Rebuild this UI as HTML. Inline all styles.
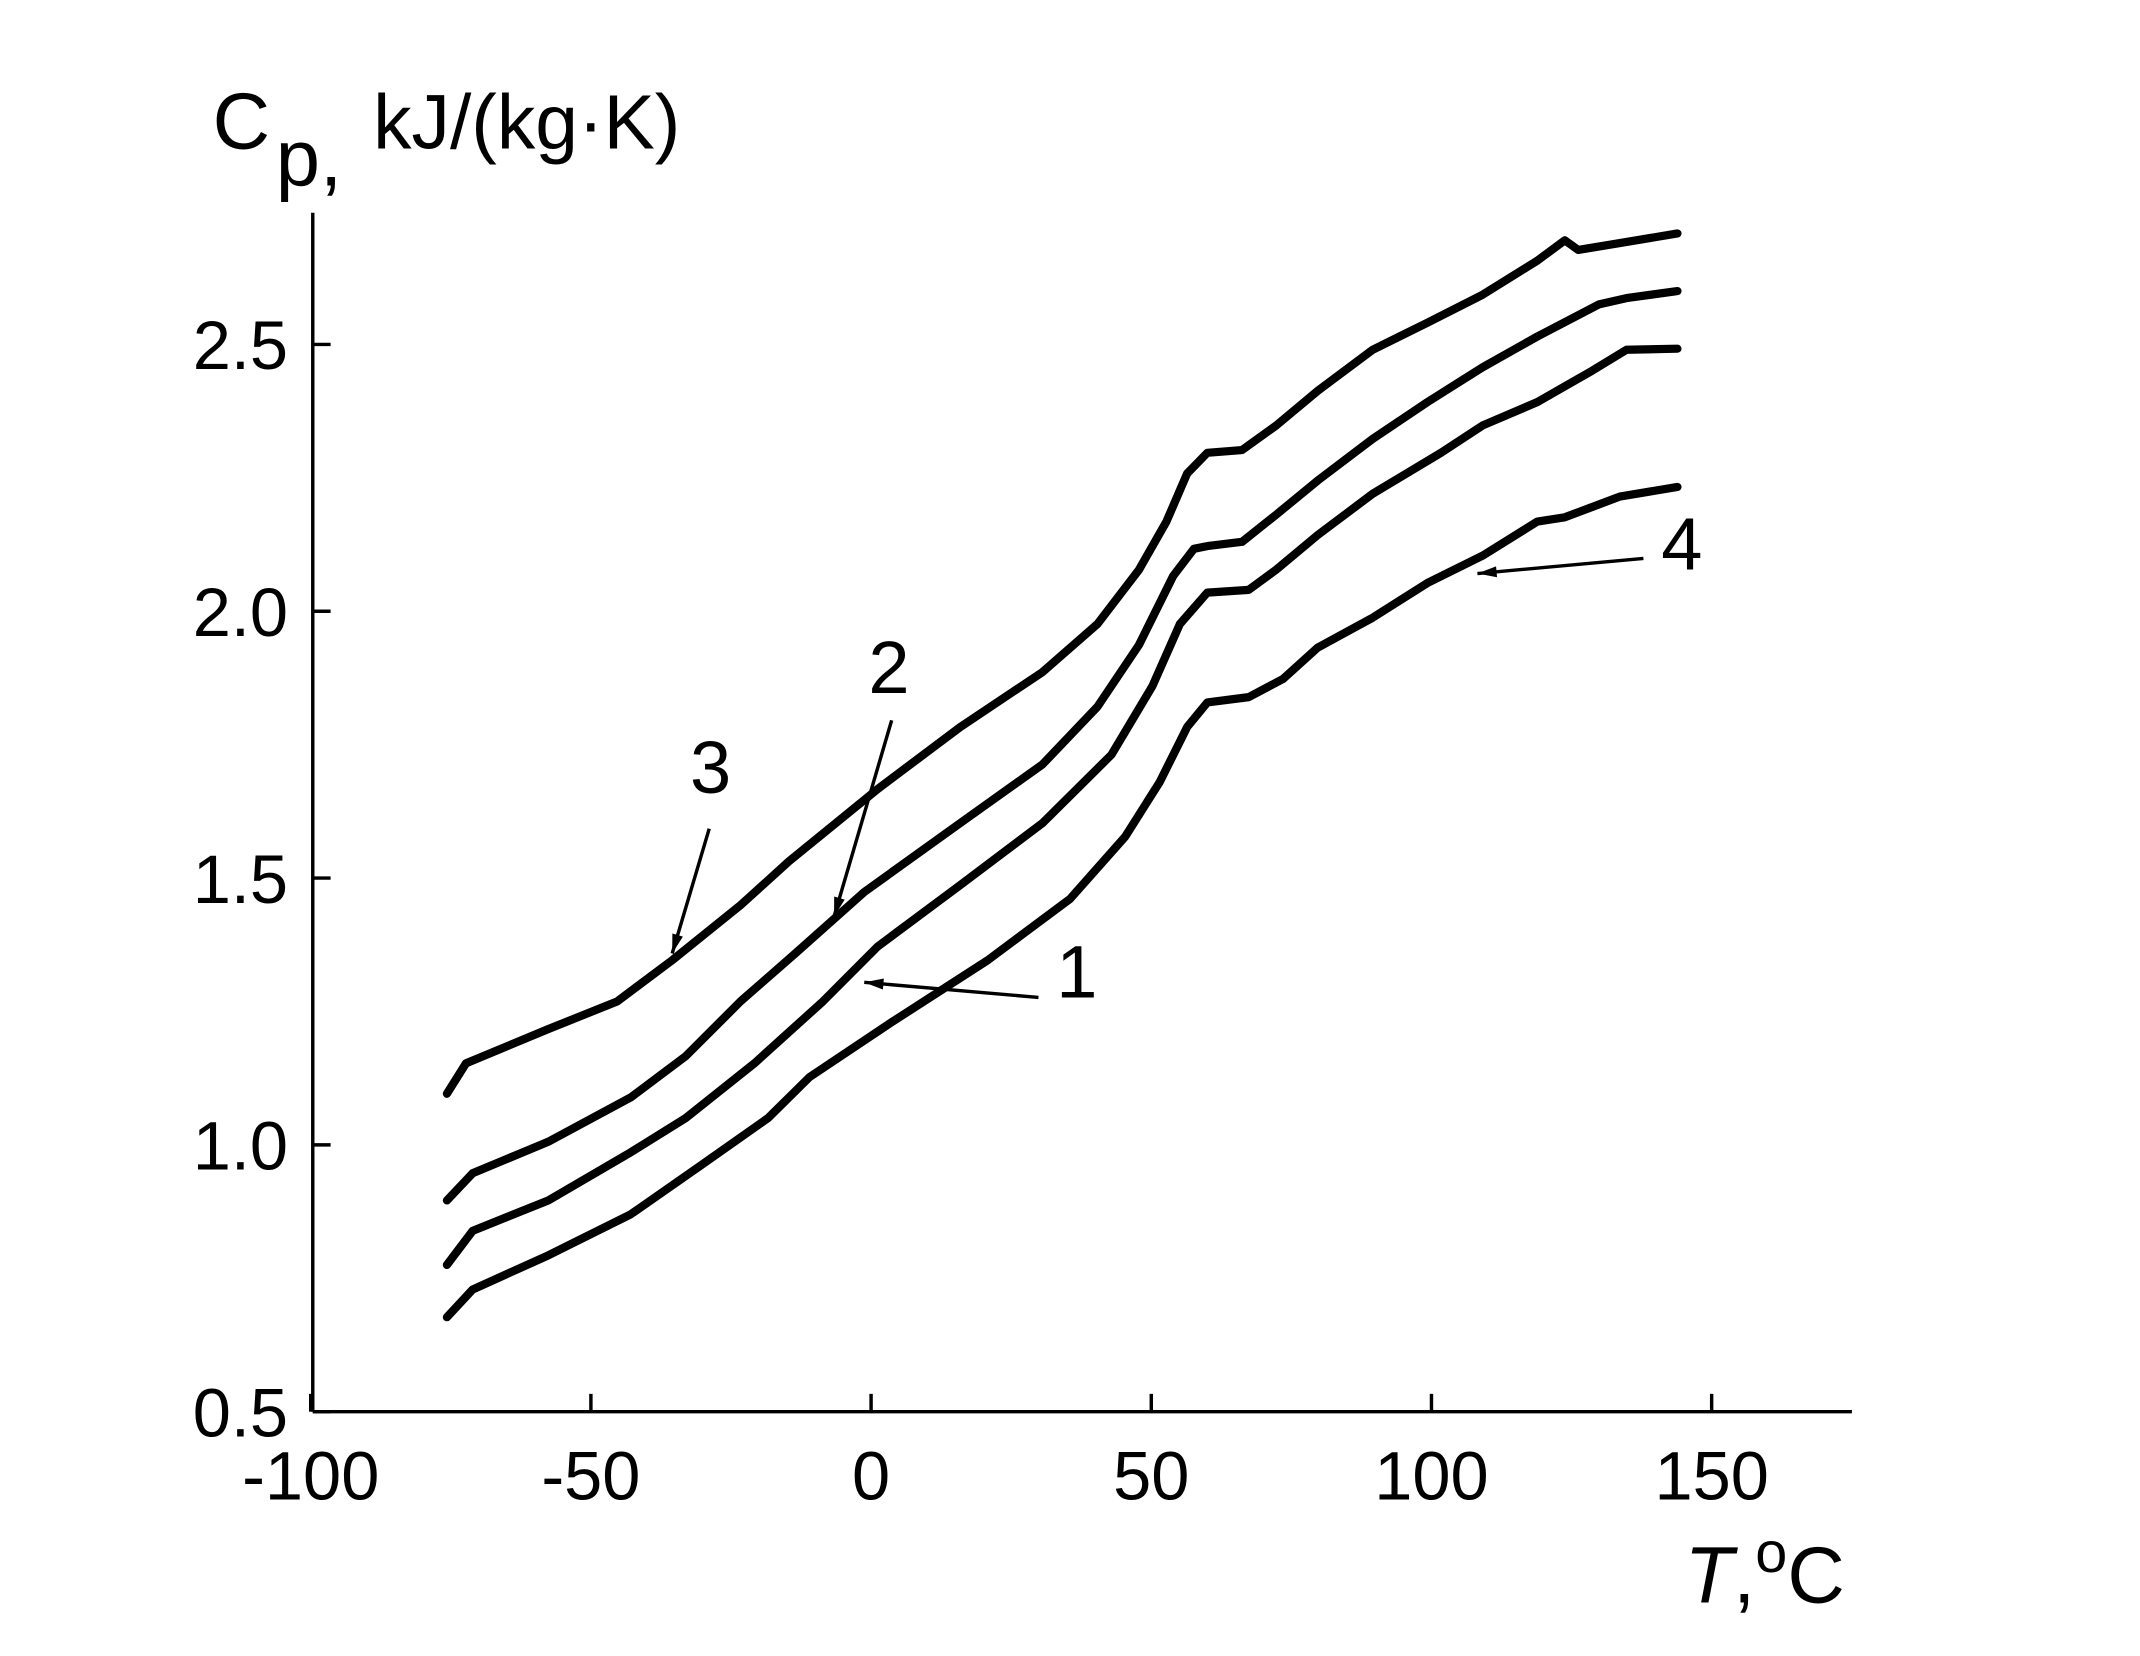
<!DOCTYPE html>
<html><head><meta charset="utf-8"><style>html,body{margin:0;padding:0;background:#fff}svg{display:block}</style></head>
<body>
<svg id="chart" width="2140" height="1656" viewBox="0 0 1560 1207" xmlns="http://www.w3.org/2000/svg" font-family="Liberation Sans, Arial, sans-serif">
<rect width="1560" height="1207" fill="#fff"/>
<g id="axes"></g>
<g id="series"></g>
<g id="annot"></g>
</svg>
<script>
const xTicks = [-100, -50, 0, 50, 100, 150];
const xTickLabels = ["-100", "-50", "0", "50", "100", "150"];
const yTicks = [0.5, 1.0, 1.5, 2.0, 2.5];
const yTickLabels = ["0.5", "1.0", "1.5", "2.0", "2.5"];
const curve1T = [-75.7,-71.1,-57.6,-42.9,-33.1,-20.8,-8.6,1.2,15.9,30.6,42.9,50.2,55.1,60,67.4,72.3,79.7,89.5,101.7,109.1,118.9,128.7,134.8,143.9];
const curve1Cp = [0.775,0.839,0.896,0.986,1.050,1.153,1.269,1.372,1.487,1.603,1.731,1.860,1.976,2.035,2.040,2.078,2.143,2.220,2.297,2.348,2.392,2.451,2.490,2.492];
const curve2T = [-75.7,-71.1,-57.6,-42.9,-33.1,-23.3,-13.5,-1.2,15.9,30.6,40.4,47.8,53.9,57.6,60,66.2,72.3,79.7,89.5,99.3,109.1,118.9,129.9,134.8,143.9];
const curve2Cp = [0.896,0.947,1.006,1.089,1.166,1.269,1.359,1.474,1.603,1.713,1.821,1.937,2.066,2.117,2.122,2.130,2.181,2.245,2.323,2.392,2.457,2.515,2.575,2.587,2.600];
const curve3T = [-75.7,-72.3,-57.6,-45.3,-35.5,-23.3,-14.7,1.2,15.9,30.6,40.4,47.8,52.7,56.4,60,66.2,72.3,79.7,89.5,99.3,109.1,118.9,123.8,126.2,133.6,143.9];
const curve3Cp = [1.096,1.153,1.217,1.269,1.346,1.449,1.531,1.667,1.783,1.886,1.976,2.078,2.168,2.258,2.297,2.302,2.348,2.413,2.490,2.541,2.593,2.657,2.695,2.677,2.690,2.708];
const curve4T = [-75.7,-71.1,-57.6,-42.9,-30.6,-18.4,-11.0,3.7,20.8,35.5,45.3,51.5,56.4,60,67.4,73.5,79.7,89.5,99.3,109.1,118.9,123.8,133.6,143.9];
const curve4Cp = [0.677,0.729,0.793,0.870,0.960,1.050,1.127,1.230,1.346,1.461,1.577,1.680,1.783,1.829,1.839,1.873,1.932,1.988,2.053,2.104,2.168,2.176,2.215,2.233];

const NS = "http://www.w3.org/2000/svg";
const X0 = 635, XS = 4.085, Y0 = 1029, YS = 389;
function xs(t){ return X0 + t*XS; }
function ys(c){ return Y0 - (c-0.5)*YS; }
function mk(tag, attrs, parent){
  const e = document.createElementNS(NS, tag);
  for (const k in attrs) e.setAttribute(k, attrs[k]);
  parent.appendChild(e); return e;
}
const axes = document.getElementById('axes');
let l = mk('line',{x1:228,y1:1029,x2:1350,y2:1029,stroke:'#000','stroke-width':2.5},axes);


l = mk('line',{x1:228,y1:155,x2:228,y2:1029,stroke:'#000','stroke-width':2.5},axes);


xTicks.forEach((t,i)=>{
  const tk = mk('line',{x1:xs(t),y1:1029,x2:xs(t),y2:1016,stroke:'#000','stroke-width':2.5},axes);
  
  
  const tx = mk('text',{x:xs(t),y:1093,'font-size':50,'text-anchor':'middle'},axes);
  tx.textContent = xTickLabels[i];
  
  
});
yTicks.forEach((c,i)=>{
  const tk = mk('line',{x1:228,y1:ys(c),x2:241,y2:ys(c),stroke:'#000','stroke-width':2.5},axes);
  
  
  const tx = mk('text',{x:210,y:ys(c)+18,'font-size':50,'text-anchor':'end'},axes);
  tx.textContent = yTickLabels[i];
  
  
});
let yt = mk('text',{x:155,y:108,'font-size':58},axes);
yt.textContent = 'C';


let ys2 = mk('text',{x:201,y:135,'font-size':58},axes);
ys2.textContent = 'p,';


let yu = mk('text',{x:272,y:108,'font-size':56},axes);
yu.textContent = 'kJ/(kg·K)';


let xt = mk('text',{x:1228,y:1168,'font-size':58},axes);
xt.innerHTML = '<tspan font-style="italic">T</tspan>,<tspan dy="-22" font-size="42">o</tspan><tspan dy="22">C</tspan>';



const ser = document.getElementById('series');
[[curve1T,curve1Cp,'curve-1'],[curve2T,curve2Cp,'curve-2'],[curve3T,curve3Cp,'curve-3'],[curve4T,curve4Cp,'curve-4']].forEach(s=>{
  const d = s[0].map((t,i)=>(i?'L':'M')+xs(t).toFixed(1)+','+ys(s[1][i]).toFixed(1)).join(' ');
  const p = mk('path',{d:d,fill:'none',stroke:'#000','stroke-width':6,'stroke-linejoin':'round','stroke-linecap':'round'},ser);
  
  
});

const an = document.getElementById('annot');
const labels = [["1",785,727,757,727,630,716],["2",648,505,650,525,608,668],["3",518,578,517,604,490,695],["4",1226,415,1198,407,1077,418]];
labels.forEach(a=>{
  const t = mk('text',{x:a[1],y:a[2],'font-size':54,'text-anchor':'middle'},an);
  t.textContent = a[0];
  
  
  const ln = mk('line',{x1:a[3],y1:a[4],x2:a[5],y2:a[6],stroke:'#000','stroke-width':2.5},an);
  
  
  const ang = Math.atan2(a[6]-a[4],a[5]-a[3]);
  const L=14,W=4;
  const bx=a[5]-L*Math.cos(ang), by=a[6]-L*Math.sin(ang);
  const pts=[a[5]+','+a[6],(bx-W*Math.sin(ang))+','+(by+W*Math.cos(ang)),(bx+W*Math.sin(ang))+','+(by-W*Math.cos(ang))].join(' ');
  const ah = mk('polygon',{points:pts,fill:'#000'},an);
  
  
});
</script>
</body></html>
